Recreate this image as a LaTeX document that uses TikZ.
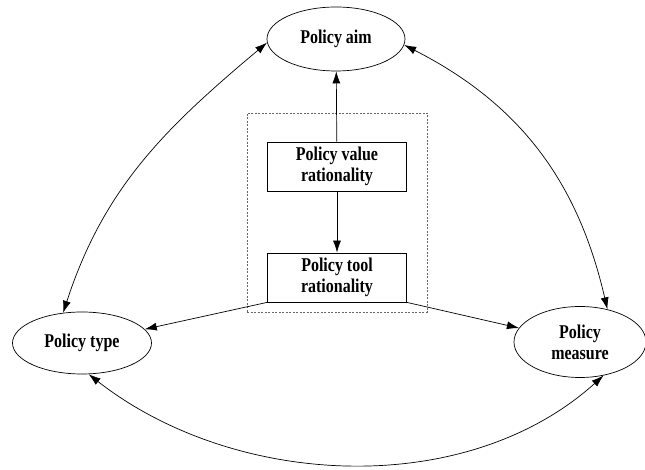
\documentclass[tikz,border=0pt]{standalone}
\usepackage{fontspec}
\setmainfont{Liberation Serif}[FakeStretch=0.82]
\usetikzlibrary{arrows.meta,shapes}
\tikzstyle{goal}=[ellipse,draw,line width=0.7pt,inner sep=0pt,align=center,font=\fontsize{19.5}{21}\selectfont\bfseries]
\tikzstyle{ratio}=[rectangle,draw,line width=0.8pt,minimum width=139pt,minimum height=49pt,inner sep=0pt,align=center,font=\fontsize{19.5}{21}\selectfont\bfseries]
\tikzstyle{frame}=[rectangle,draw=black!60,dashed,dash pattern=on 2pt off 1.5pt,line width=0.6pt,minimum width=180pt,minimum height=199pt,inner sep=0pt]
\tikzstyle{edge} = [draw,line width=0.7pt,-{Latex[length=12pt,width=8pt]}]
\tikzstyle{link} = [draw,line width=0.7pt,{Latex[length=12pt,width=8pt]}-{Latex[length=12pt,width=8pt]}]

\begin{document}
\begin{tikzpicture}[x=1pt,y=1pt]
    \useasboundingbox (0,0) rectangle (645,470);

    % rationality block
    \node[frame] (frame) at (337,257.5) {};
    \node[ratio] (value) at (337,303.5) {Policy value\\rationality};
    \node[ratio] (tool) at (337,192.5) {Policy tool\\rationality};

    \foreach \x/\y/\w/\h/\name/\txt in {336/431/138/64/aim/{Policy aim}, 82/127/139/62/type/{Policy type}, 580/128/132/71/measure/{Policy\\measure}}
        \node[goal, minimum width=\w pt, minimum height=\h pt] (\name) at (\x,\y) {\txt};

    \path[edge] (value) -- (aim);
    \path[edge] (value) -- (tool);
    \path[edge] (tool.south west) -- (type);
    \path[edge] (tool.south east) -- (measure);

    \path[link] (aim.183) to[out=220,in=72] (type.122);
    \path[link] (aim.-5) to[out=-27,in=103] (measure.50);
    \path[link] (type.-78) to[out=-38,in=222,looseness=0.92] (measure.-55);
\end{tikzpicture}
\end{document}
